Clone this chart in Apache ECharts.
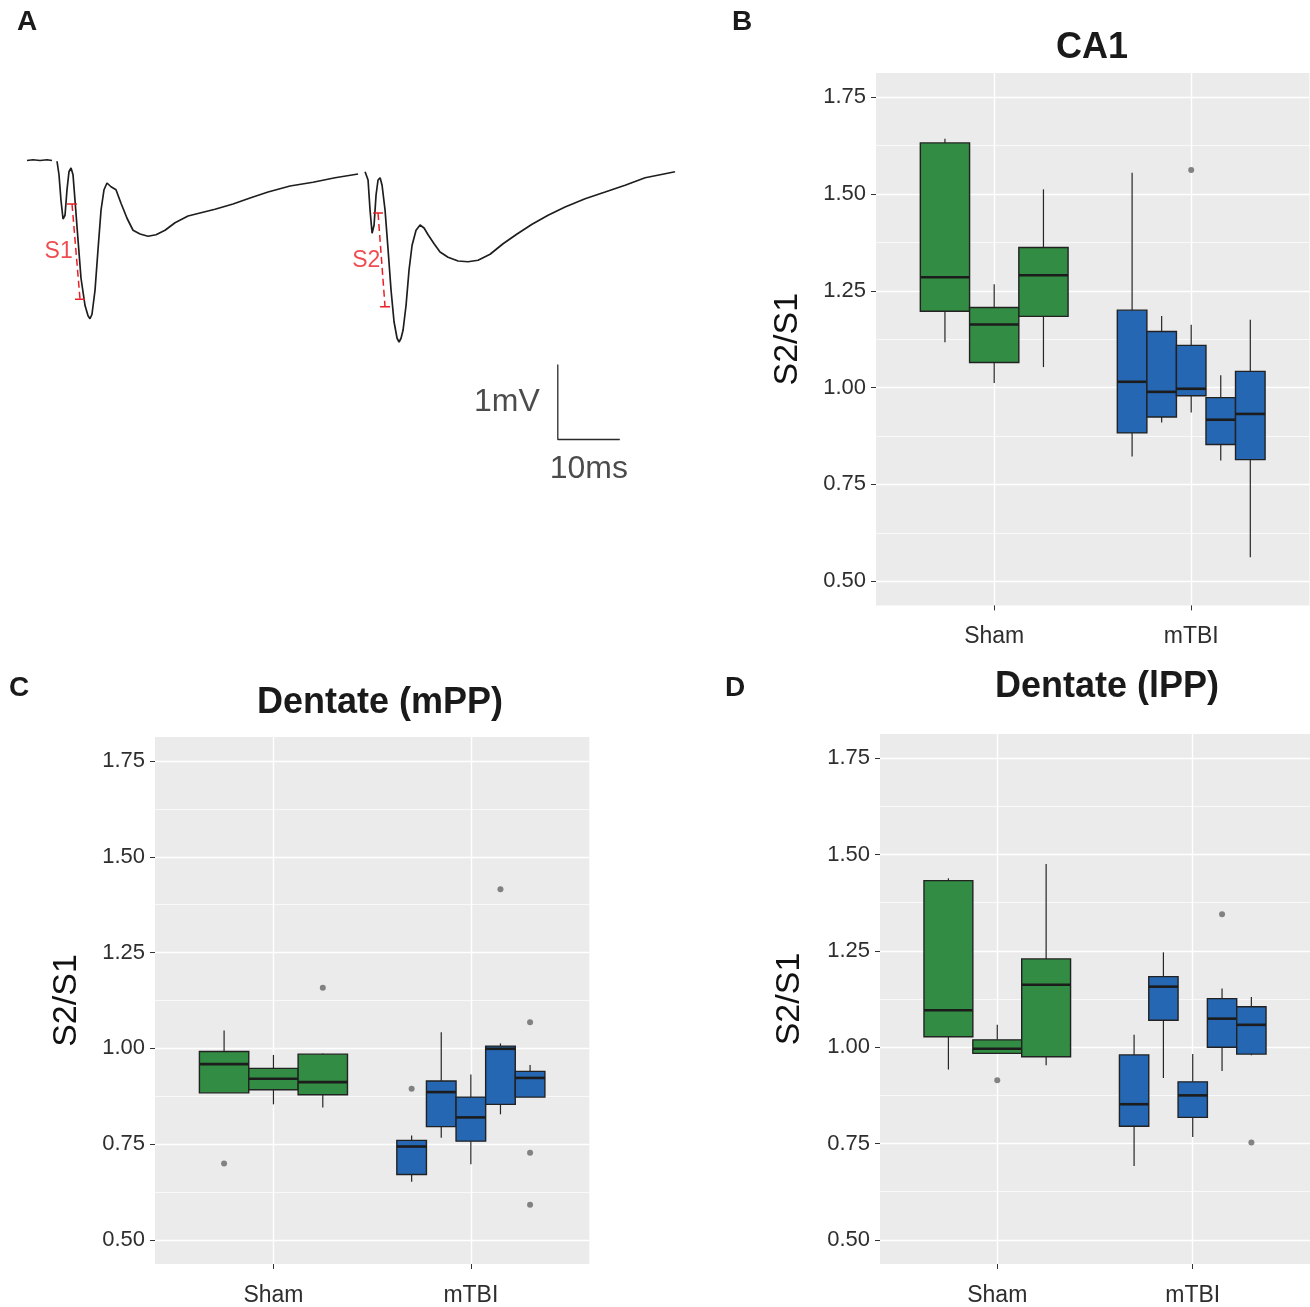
<!DOCTYPE html>
<html>
<head>
<meta charset="utf-8">
<title>S2/S1 paired-pulse ratio</title>
<script src="https://cdn.jsdelivr.net/npm/echarts@6.0.0/dist/echarts.min.js"></script>
<style>
  html, body { margin: 0; padding: 0; background: #fff; }
  #chart { width: 1310px; height: 1307px; }
</style>
</head>
<body>
<div id="chart"></div>
<script>
const FONT = "'Liberation Sans', Arial, Helvetica, sans-serif";
const GREEN = '#328c43';
const BLUE = '#2567b3';
const DODGE = 0.75;

const groups = ['Sham', 'mTBI'];
const yTicks = [0.5, 0.75, 1.0, 1.25, 1.5, 1.75];
const yMinor = [0.625, 0.875, 1.125, 1.375, 1.625];

// box stats per animal: [lower whisker, q1, median, q3, upper whisker]
const ca1Sham = [[1.117, 1.197, 1.285, 1.632, 1.643], [1.012, 1.065, 1.163, 1.207, 1.267], [1.053, 1.184, 1.290, 1.362, 1.512]];
const ca1Mtbi = [[0.822, 0.883, 1.015, 1.200, 1.555], [0.910, 0.924, 0.989, 1.145, 1.185], [0.936, 0.979, 0.997, 1.109, 1.162],
  [0.812, 0.853, 0.917, 0.974, 1.032], [0.562, 0.814, 0.932, 1.042, 1.175]];
// outliers: [group, box, value]
const ca1Outliers = [[1, 2, 1.562]];

const mppSham = [[0.884, 0.884, 0.959, 0.992, 1.047], [0.854, 0.892, 0.921, 0.948, 0.983], [0.846, 0.879, 0.912, 0.985, 0.987]];
const mppMtbi = [[0.652, 0.671, 0.744, 0.760, 0.773], [0.767, 0.796, 0.886, 0.915, 1.042], [0.698, 0.758, 0.820, 0.873, 0.932],
  [0.828, 0.854, 0.999, 1.006, 1.013], [0.873, 0.873, 0.923, 0.940, 0.957]];
const mppOutliers = [[0, 0, 0.700], [0, 2, 1.158], [1, 0, 0.895], [1, 3, 1.415], [1, 4, 1.068], [1, 4, 0.728], [1, 4, 0.592]];

const lppSham = [[0.942, 1.027, 1.096, 1.432, 1.438], [0.984, 0.984, 0.996, 1.019, 1.058], [0.953, 0.975, 1.162, 1.229, 1.475]];
const lppMtbi = [[0.692, 0.795, 0.852, 0.980, 1.032], [0.920, 1.070, 1.157, 1.183, 1.246], [0.767, 0.818, 0.875, 0.910, 0.982],
  [0.938, 1.000, 1.074, 1.126, 1.152], [0.979, 0.982, 1.058, 1.105, 1.130]];
const lppOutliers = [[0, 1, 0.914], [1, 3, 1.345], [1, 4, 0.753]];

// panel A example trace (ms, mV), null = stimulus artefact gap
const traceMs = [0, 0.97, 2.10, 3.23, 4.03, null,
  4.84, 5.16, 5.48, 5.81, 6.13, 6.45, 6.77, 7.10, 7.42, 7.74, 8.23, 8.71, 9.35, 9.84, 10.16, 10.48, 10.97, 11.45, 11.94,
  12.42, 12.90, 13.55, 14.35, 15.16, 16.13, 17.10, 18.23, 19.52, 20.81, 22.26, 23.87, 25.97, 27.90, 30.32, 33.23, 35.97,
  38.87, 42.42, 46.13, 49.68, 53.39, null,
  54.52, 55.00, 55.32, 55.65, 55.97, 56.29, 56.61, 56.94, 57.26, 57.74, 58.23, 58.71, 59.19, 59.68, 60.00, 60.32, 60.65,
  61.13, 61.61, 62.10, 62.74, 63.39, 64.03, 64.68, 65.65, 66.61, 67.90, 69.52, 71.13, 72.74, 74.68, 76.77, 79.03, 81.45,
  84.03, 86.77, 90.00, 93.23, 96.45, 99.68, 102.1, 104.5];
const traceMv = [0.02, 0.03, 0.02, 0.03, 0.02, null,
  0.01, -0.17, -0.51, -0.76, -0.71, -0.37, -0.13, -0.08, -0.17, -0.51, -1.04, -1.55, -1.91, -2.05, -2.09, -2.03, -1.71, -1.17, -0.64,
  -0.37, -0.28, -0.33, -0.37, -0.55, -0.75, -0.91, -0.96, -0.99, -0.97, -0.91, -0.81, -0.72, -0.68, -0.63, -0.56, -0.48,
  -0.40, -0.32, -0.27, -0.21, -0.16, null,
  -0.13, -0.24, -0.64, -0.95, -0.84, -0.44, -0.24, -0.21, -0.31, -0.64, -1.17, -1.71, -2.13, -2.35, -2.40, -2.35, -2.24,
  -1.91, -1.44, -1.11, -0.91, -0.84, -0.88, -0.97, -1.09, -1.20, -1.27, -1.32, -1.33, -1.31, -1.23, -1.09, -0.96, -0.83,
  -0.71, -0.60, -0.49, -0.40, -0.31, -0.21, -0.17, -0.13];
// S1 / S2 amplitude markers: [ms, mV] top and bottom
const s1Marker = [[7.26, -0.56], [8.55, -1.83]];
const s2Marker = [[56.61, -0.68], [57.74, -1.93]];
const scaleBar = [[85.6, -2.7], [85.6, -3.7], [95.6, -3.7]];

function boxX(g, i, n) {
  return g + 1 - DODGE / 2 + (i + 0.5) * DODGE / n;
}

function boxItems(sham, mtbi) {
  const items = [];
  [sham, mtbi].forEach((boxes, g) => {
    boxes.forEach((b, i) => {
      items.push([boxX(g, i, boxes.length), DODGE / boxes.length / 2].concat(b, [g]));
    });
  });
  return items;
}

function outlierItems(outliers, sham, mtbi) {
  const counts = [sham.length, mtbi.length];
  return outliers.map(o => [boxX(o[0], o[1], counts[o[0]]), o[2]]);
}

function renderBox(params, api) {
  const x = api.value(0), hw = api.value(1);
  const lo = api.coord([x, api.value(2)]);
  const q1 = api.coord([x, api.value(3)]);
  const md = api.coord([x, api.value(4)]);
  const q3 = api.coord([x, api.value(5)]);
  const hi = api.coord([x, api.value(6)]);
  const left = api.coord([x - hw, 1])[0];
  const right = api.coord([x + hw, 1])[0];
  const fill = api.value(7) === 0 ? GREEN : BLUE;
  const edge = { stroke: '#262626', lineWidth: 1.2 };
  return {
    type: 'group',
    children: [
      { type: 'line', shape: { x1: lo[0], y1: lo[1], x2: q1[0], y2: q1[1] }, style: edge },
      { type: 'line', shape: { x1: q3[0], y1: q3[1], x2: hi[0], y2: hi[1] }, style: edge },
      { type: 'rect', shape: { x: left, y: q3[1], width: right - left, height: q1[1] - q3[1] },
        style: { fill: fill, stroke: '#222', lineWidth: 1.4 } },
      { type: 'line', shape: { x1: left, y1: md[1], x2: right, y2: md[1] }, style: { stroke: '#1c1c1c', lineWidth: 2.6 } }
    ]
  };
}

const boxGrids = [
  { left: 876, top: 73, width: 433.4, height: 532.4 },
  { left: 155, top: 737, width: 434.3, height: 533.5 },
  { left: 880, top: 734, width: 432.5, height: 535 }
];
const nameGaps = [71, 71, 73];

const grid = [{ left: 27, top: 124.5, width: 648, height: 375 }].concat(
  boxGrids.map(g => Object.assign({ show: true, backgroundColor: '#ebebeb', borderWidth: 0 }, g)));

const xAxis = [{ gridIndex: 0, type: 'value', min: 0, max: 104.5, show: false }];
const yAxis = [{ gridIndex: 0, type: 'value', min: -4.5, max: 0.5, show: false }];
boxGrids.forEach((g, k) => {
  xAxis.push({
    gridIndex: k + 1, type: 'value', min: 0.4, max: 2.6,
    axisLine: { show: false },
    axisTick: { show: true, length: 5, customValues: [1, 2], lineStyle: { color: '#333', width: 1 } },
    axisLabel: { customValues: [1, 2], formatter: v => groups[Math.round(v) - 1], margin: 20,
      color: '#2e2e2e', fontSize: 23, fontFamily: FONT },
    splitLine: { show: true, lineStyle: { color: '#fff', width: 1.4 } }
  });
  yAxis.push({
    gridIndex: k + 1, type: 'value', min: 0.4375, max: 1.8125,
    name: 'S2/S1', nameLocation: 'middle', nameGap: nameGaps[k],
    nameTextStyle: { fontSize: 34, color: '#111', fontFamily: FONT },
    axisLine: { show: false },
    axisTick: { show: true, length: 5, customValues: yTicks, lineStyle: { color: '#333', width: 1 } },
    axisLabel: { customValues: yTicks, formatter: v => v.toFixed(2), margin: 10,
      color: '#2e2e2e', fontSize: 22, fontFamily: FONT },
    splitLine: { show: true, lineStyle: { color: '#fff', width: 1.4 } }
  });
});
boxGrids.forEach((g, k) => {
  yAxis.push({
    gridIndex: k + 1, type: 'value', min: 0.4375, max: 1.8125, position: 'right',
    axisLine: { show: false },
    axisTick: { show: false, customValues: yMinor },
    axisLabel: { show: false, customValues: yMinor },
    splitLine: { show: true, lineStyle: { color: '#fff', width: 0.7 } }
  });
});

const panels = [[ca1Sham, ca1Mtbi, ca1Outliers], [mppSham, mppMtbi, mppOutliers], [lppSham, lppMtbi, lppOutliers]];

const series = [
  {
    type: 'line', xAxisIndex: 0, yAxisIndex: 0, showSymbol: false, silent: true,
    data: traceMs.map((t, i) => t === null ? '-' : [t, traceMv[i]]),
    lineStyle: { color: '#1e1e1e', width: 1.7 }
  },
  {
    type: 'line', xAxisIndex: 0, yAxisIndex: 0, showSymbol: false, silent: true,
    data: [s1Marker[0], s1Marker[1], '-', s2Marker[0], s2Marker[1]],
    lineStyle: { color: '#ea1f26', width: 1.5, type: [7, 4] }
  },
  {
    type: 'line', xAxisIndex: 0, yAxisIndex: 0, showSymbol: false, silent: true,
    data: [s1Marker, s2Marker].flatMap(m => m.flatMap(p => [[p[0] - 0.8, p[1]], [p[0] + 0.8, p[1]], '-'])),
    lineStyle: { color: '#ea1f26', width: 1.5 }
  },
  {
    type: 'scatter', xAxisIndex: 0, yAxisIndex: 0, symbolSize: 0, silent: true,
    data: [
      { value: [7.7, -1.2], name: 'S1' },
      { value: [57.3, -1.32], name: 'S2' }
    ],
    label: { show: true, position: 'left', distance: 2, formatter: '{b}', color: '#ea1f26', fontSize: 23, fontFamily: FONT }
  },
  {
    type: 'line', xAxisIndex: 0, yAxisIndex: 0, showSymbol: false, silent: true,
    data: scaleBar, lineStyle: { color: '#2a2a2a', width: 1.3 }
  },
  {
    type: 'scatter', xAxisIndex: 0, yAxisIndex: 0, symbolSize: 0, silent: true,
    data: [
      { value: [scaleBar[0][0], (scaleBar[0][1] + scaleBar[1][1]) / 2], name: '1mV', label: { position: 'left', distance: 18 } },
      { value: [(scaleBar[1][0] + scaleBar[2][0]) / 2, scaleBar[1][1]], name: '10ms', label: { position: 'bottom', distance: 14 } }
    ],
    label: { show: true, formatter: '{b}', color: '#1e1e1e', fontSize: 32, fontFamily: FONT }
  }
];

panels.forEach((p, k) => {
  series.push({
    type: 'custom', xAxisIndex: k + 1, yAxisIndex: k + 1, silent: true,
    renderItem: renderBox, data: boxItems(p[0], p[1])
  });
  series.push({
    type: 'scatter', xAxisIndex: k + 1, yAxisIndex: k + 1, silent: true,
    symbolSize: 6, itemStyle: { color: '#666' }, data: outlierItems(p[2], p[0], p[1])
  });
});

function txt(text, x, y, size, bold) {
  return {
    type: 'text', x: x, y: y,
    style: { text: text, fontSize: size, fontWeight: bold ? 'bold' : 'normal', fontFamily: FONT,
      fill: '#1a1a1a', align: 'center', verticalAlign: 'middle' }
  };
}

const chart = echarts.init(document.getElementById('chart'), null, { renderer: 'canvas' });
chart.setOption({
  backgroundColor: '#fff',
  animation: false,
  grid: grid,
  xAxis: xAxis,
  yAxis: yAxis,
  series: series,
  graphic: [
    txt('A', 27, 22, 28, true),
    txt('B', 742, 22, 28, true),
    txt('C', 19, 688, 28, true),
    txt('D', 735, 688, 28, true),
    txt('CA1', 1092, 48, 36, true),
    txt('Dentate (mPP)', 380, 703, 36, true),
    txt('Dentate (lPP)', 1107, 687, 36, true)
  ]
});
</script>
</body>
</html>
